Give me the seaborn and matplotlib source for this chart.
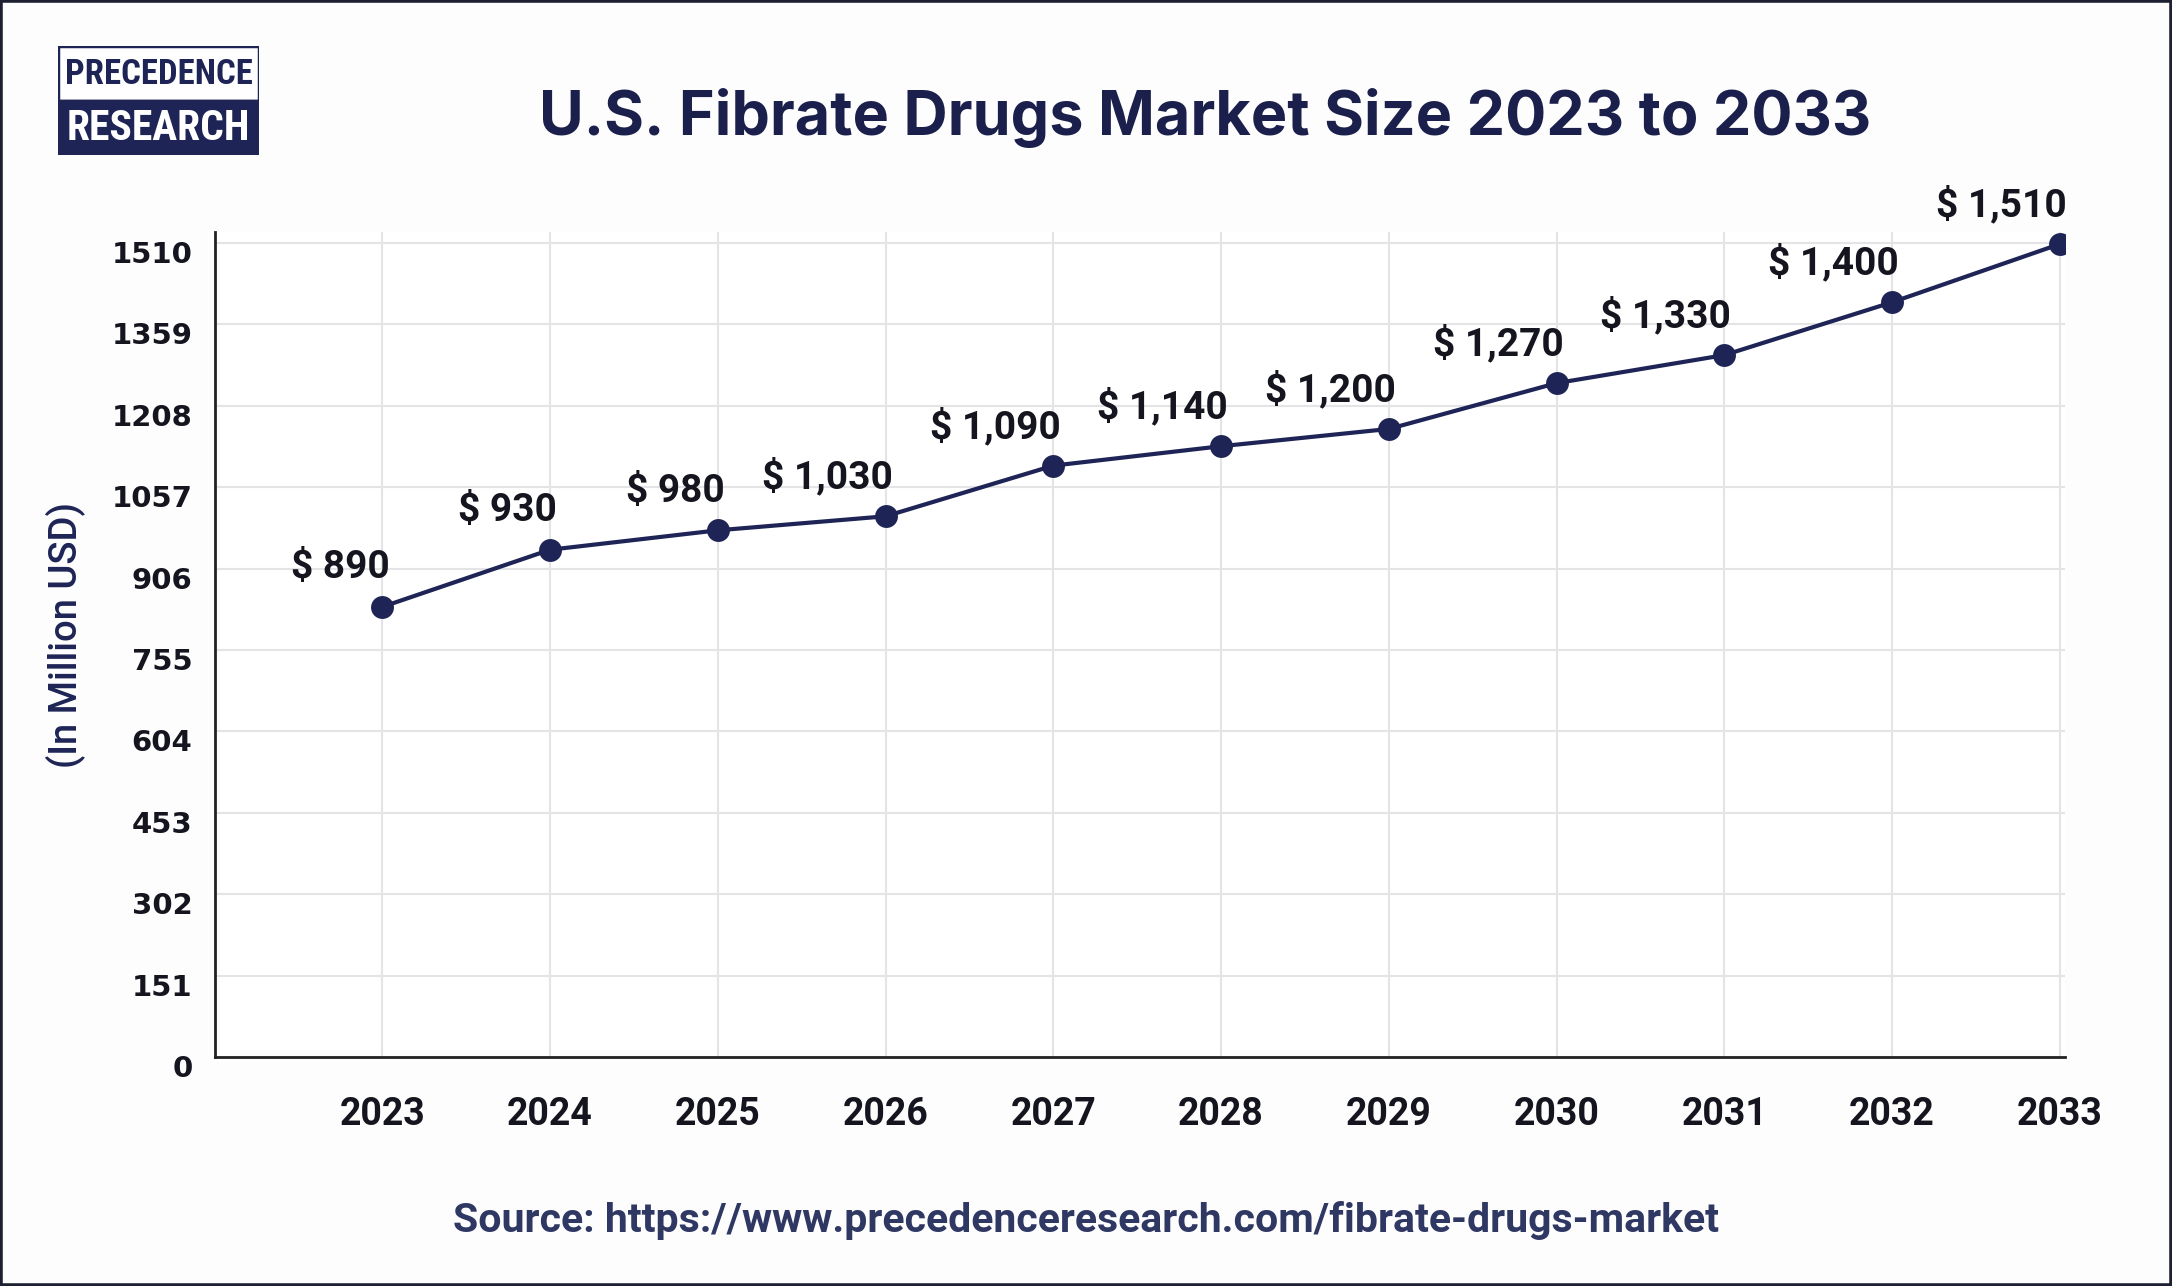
import matplotlib
matplotlib.use("Agg")
import matplotlib.pyplot as plt
from matplotlib.patches import Rectangle
from matplotlib.transforms import ScaledTranslation
import seaborn as sns
import pandas as pd
import logging
logging.getLogger("matplotlib.font_manager").setLevel(logging.ERROR)

# ---------------- data ----------------
years = [2023, 2024, 2025, 2026, 2027, 2028, 2029, 2030, 2031, 2032, 2033]
values = [835, 941, 977, 1003, 1097, 1133, 1165, 1250, 1302, 1400, 1508]
value_labels = ["$ 890", "$ 930", "$ 980", "$ 1,030", "$ 1,090", "$ 1,140",
                "$ 1,200", "$ 1,270", "$ 1,330", "$ 1,400", "$ 1,510"]
y_ticks = [0, 151, 302, 453, 604, 755, 906, 1057, 1208, 1359, 1510]
title = "U.S. Fibrate Drugs Market Size 2023 to 2033"
y_label = "(In Million USD)"
source = "Source: https://www.precedenceresearch.com/fibrate-drugs-market"

df = pd.DataFrame({"year": years, "value": values})

NAVY = "#1e2556"
TEXT = "#15151f"

sns.set_theme(style="whitegrid")
plt.rcParams["font.family"] = ["DejaVu Sans"]

W, H = 2172, 1286
DPI = 100
fig = plt.figure(figsize=(W / DPI, H / DPI), dpi=DPI, facecolor="#fdfdfd")

ax = fig.add_axes([214.6 / W, (H - 1057) / H, (2064.8 - 214.6) / W, 824.8 / H])
ax.set_facecolor("white")

sns.lineplot(data=df, x="year", y="value", ax=ax, color=NAVY, linewidth=3,
             marker="o", markersize=16.5, markeredgewidth=0, markerfacecolor=NAVY)

ax.set_xlim(2022, 2033.03)
ax.set_ylim(0, 1530)
ax.set_xticks(years)
ax.set_xticklabels([str(y) for y in years])
ax.set_yticks(y_ticks)
ax.set_yticklabels([str(v) for v in y_ticks])

ax.grid(True, color="#e4e4e6", linewidth=1.5)
for side in ["top", "right"]:
    ax.spines[side].set_visible(False)
for side in ["left", "bottom"]:
    ax.spines[side].set_visible(True)
    ax.spines[side].set_color("#222222")
    ax.spines[side].set_linewidth(2)

ax.tick_params(axis="x", length=6, width=1.5, color="#dddddd", pad=22,
               labelsize=27, labelcolor=TEXT)
ax.tick_params(axis="y", length=0, pad=16, labelsize=21, labelcolor=TEXT)
for lab in ax.get_xticklabels():
    lab.set_fontfamily(["Roboto", "DejaVu Sans"])
    lab.set_fontweight("bold")
off = ScaledTranslation(0, -9 / DPI, fig.dpi_scale_trans)
for lab in ax.get_yticklabels():
    lab.set_fontweight("bold")
    lab.set_transform(lab.get_transform() + off)

ax.set_xlabel("")
ax.set_ylabel("")

for x, v, t in zip(years, values, value_labels):
    ax.annotate(t, (x, v), xytext=(5, 28), textcoords="offset points",
                ha="right", va="center", fontsize=28, fontweight="bold",
                color=TEXT, family=["Roboto", "DejaVu Sans"])

# title, y label, source
fig.text(0.555, 0.908, title, ha="center", va="center", fontsize=44,
         fontweight="bold", color="#1b1f4b", family=["Inter", "Roboto", "DejaVu Sans"])
fig.text(0.030, 0.506, y_label, ha="center", va="center", rotation=90,
         fontsize=27.5, fontweight="medium", color=NAVY,
         family=["Roboto", "DejaVu Sans"])
fig.text(0.5, 0.0513, source, ha="center", va="center", fontsize=29.5,
         fontweight="bold", color="#2f3763", family=["Roboto", "DejaVu Sans"])

# logo
lx0, ly0, lw, lh = 58, 46, 201, 109
lax = fig.add_axes([lx0 / W, (H - ly0 - lh) / H, lw / W, lh / H])
lax.set_xlim(0, 1)
lax.set_ylim(0, 1)
lax.axis("off")
lax.add_patch(Rectangle((0, 0.5), 1, 0.5, facecolor="white", edgecolor=NAVY,
                        linewidth=2.5))
lax.add_patch(Rectangle((0, 0), 1, 0.5, facecolor=NAVY, edgecolor=NAVY,
                        linewidth=2.5))
logo_fam = ["Liberation Sans Narrow", "DejaVu Sans Condensed", "Roboto Condensed",
            "Roboto", "DejaVu Sans"]
lax.text(0.5, 0.74, "PRECEDENCE", ha="center", va="center", fontsize=25,
         fontweight="bold", color=NAVY, family=logo_fam)
lax.text(0.5, 0.24, "RESEARCH", ha="center", va="center", fontsize=30,
         fontweight="bold", color="white", family=logo_fam)

# outer frame
fig.patches.append(Rectangle((0, 0), 1, 1, transform=fig.transFigure,
                             fill=False, edgecolor="#1c2030", linewidth=4))

fig.savefig("out.png", dpi=DPI, facecolor=fig.get_facecolor())
